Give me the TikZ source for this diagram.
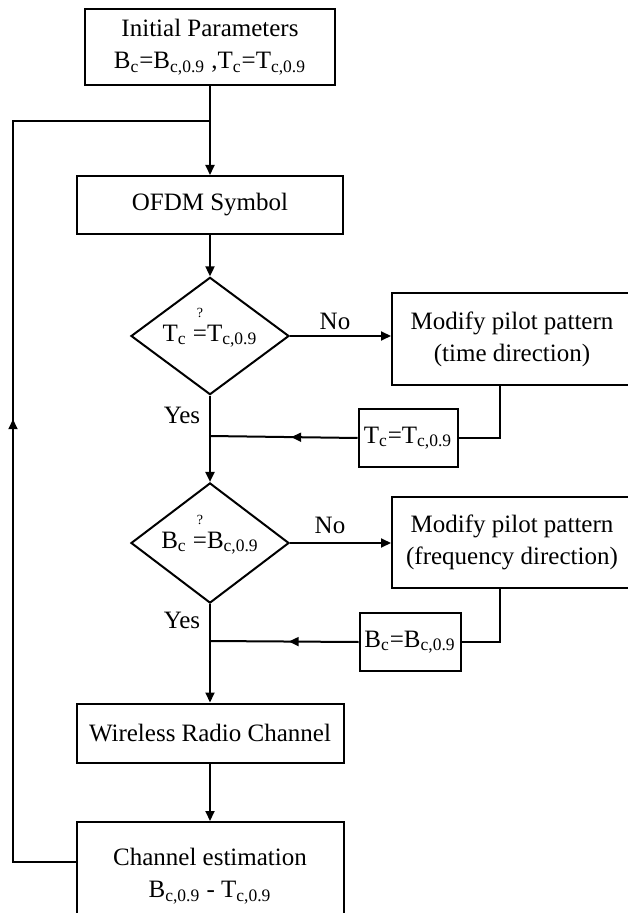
\documentclass[tikz,border=0pt]{standalone}
\usepackage{fontspec}
\setmainfont{Liberation Serif}
\usetikzlibrary{shapes.geometric,arrows.meta,calc,decorations.markings}
\newcommand{\qeq}{\smash{\shortstack{\fontsize{7}{7}\selectfont ?\\[3pt]=}}}

\begin{document}
\begin{tikzpicture}[x=0.5pt,y=-0.5pt,line width=1pt,
  box/.style={draw,rectangle,inner sep=0pt,align=center,font=\fontsize{12.5}{16}\selectfont},
  test/.style={draw,diamond,inner sep=0pt,minimum width=79pt,minimum height=56pt,font=\fontsize{12.5}{16}\selectfont},
  lbl/.style={font=\fontsize{12.5}{16}\selectfont},
  arr/.style={-{Triangle[length=5pt,width=4.5pt]}},
  midarr/.style={postaction={decorate},decoration={markings,mark=at position #1 with {\arrow{Triangle[length=5pt,width=4.5pt]}}}}]
\useasboundingbox (0,0) rectangle (627,913);
% main column
\node[box,minimum width=125pt,minimum height=38pt] (init) at (210,47) {Initial Parameters\\B\textsubscript{c}=B\textsubscript{c,0.9} ,T\textsubscript{c}=T\textsubscript{c,0.9}};
\node[box,minimum width=133pt,minimum height=29pt] (ofdm) at (210,205) {OFDM Symbol};
\node[test] (d1) at (210,336) {T\textsubscript{c} \qeq T\textsubscript{c,0.9}};
\node[test] (d2) at (210,543) {B\textsubscript{c} \qeq B\textsubscript{c,0.9}};
\node[box,minimum width=133.5pt,minimum height=29.5pt] (wrc) at (210,733) {Wireless Radio Channel};
\node[box,minimum width=133.5pt,minimum height=54pt] (ce) at (210,876) {Channel estimation\\B\textsubscript{c,0.9} - T\textsubscript{c,0.9}};
% right column
\node[box,minimum width=120pt,minimum height=46pt] (mod1) at (512,339) {Modify pilot pattern\\(time direction)};
\node[box,minimum width=49.5pt,minimum height=29pt] (tc) at (408,438) {T\textsubscript{c}=T\textsubscript{c,0.9}};
\node[box,minimum width=120pt,minimum height=45.5pt] (mod2) at (512,542.5) {Modify pilot pattern\\(frequency direction)};
\node[box,minimum width=50.5pt,minimum height=29pt] (bc) at (410,642) {B\textsubscript{c}=B\textsubscript{c,0.9}};
% labels
\node[lbl] (no1) at (335,321) {No};
\node[lbl] (yes1) at (182,415) {Yes};
\node[lbl] (no2) at (330,525) {No};
\node[lbl] (yes2) at (182,620) {Yes};
% joints
\coordinate (top) at (210,121);
\coordinate (j1) at (210,436);
\coordinate (j2) at (210,641);
\coordinate (lc1) at (13,121);
\coordinate (lc2) at (13,862);
% connectors
\draw (init) -- (top);
\draw[arr] (top) -- (ofdm);
\draw[arr] (ofdm) -- (d1);
\draw[arr] (d1.east) -- (d1.east -| mod1.west);
\draw ($(mod1.south)+(-12,0)$) |- (tc.east);
\draw[midarr=0.45] (tc.west) -- (j1);
\draw (d1.south) -- (j1);
\draw[arr] (j1) -- (d2);
\draw[arr] (d2.east) -- (d2.east -| mod2.west);
\draw ($(mod2.south)+(-12,0)$) |- (bc.east);
\draw[midarr=0.47] (bc.west) -- (j2);
\draw (d2.south) -- (j2);
\draw[arr] (j2) -- (wrc);
\draw[arr] (wrc) -- (ce);
\draw[midarr=0.505] ($(ce.west)+(0,-14)$) -- (lc2) -- (lc1) -- (top);
\end{tikzpicture}
\end{document}
